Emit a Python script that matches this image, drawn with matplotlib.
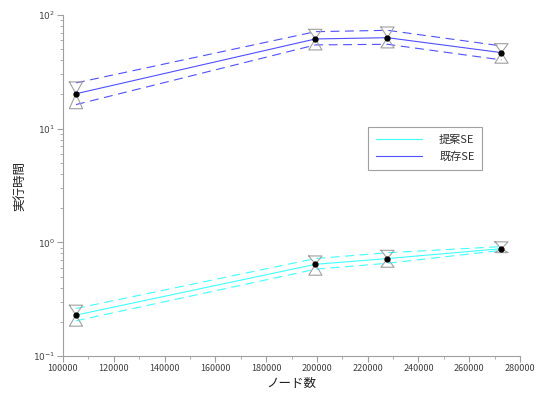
#!/usr/bin/env python3

import numpy as np
import matplotlib
matplotlib.use('Agg')
import matplotlib.pyplot as plt
from matplotlib.ticker import MultipleLocator, LogLocator, NullFormatter, FixedLocator, FixedFormatter

plt.rcParams['font.family'] = ['Noto Sans CJK JP', 'DejaVu Sans']

# node counts
nodes = [105100, 199400, 227800, 272700]

# proposed SE (cyan)
prop_mean = [0.229, 0.641, 0.72, 0.88]
prop_band_hi = [0.262, 0.72, 0.81, 0.917]
prop_band_lo = [0.204, 0.58, 0.655, 0.85]
prop_bar_hi = [0.280, 0.759, 0.851, 1.01]
prop_bar_lo = [0.183, 0.514, 0.604, 0.812]

# existing SE (blue)
exist_mean = [20.3, 61.6, 63.2, 46.7]
exist_band_hi = [25.3, 71.4, 73.4, 53.5]
exist_band_lo = [16.3, 54.6, 55.3, 40.3]
exist_bar_hi = [25.8, 74.9, 78.5, 56.0]
exist_bar_lo = [15.0, 49.3, 51.4, 37.7]

series = [
    ('提案SE', '#40ffff', prop_mean, prop_band_hi, prop_band_lo, prop_bar_hi, prop_bar_lo),
    ('既存SE', '#5050ff', exist_mean, exist_band_hi, exist_band_lo, exist_bar_hi, exist_bar_lo),
]

fig = plt.figure(figsize=(5.4, 3.96), dpi=100)
ax = fig.add_axes([0.1167, 0.101, 0.8463, 0.861])
ax.set_yscale('log')

half_w = 2600  # half width of the hourglass error marks (x units)

for label, color, mean, bhi, blo, hi, lo in series:
    ax.plot(nodes, mean, color=color, lw=0.8, label=label)
    ax.plot(nodes, bhi, color=color, lw=0.8, dashes=(8, 5))
    ax.plot(nodes, blo, color=color, lw=0.8, dashes=(8, 5))
    for x, m, h, l in zip(nodes, mean, hi, lo):
        xs = [x - half_w, x + half_w, x, x + half_w, x - half_w, x, x - half_w]
        ys = [h, h, m, l, l, m, h]
        ax.plot(xs, ys, color='#a0a0a0', lw=0.8, zorder=4)
    ax.plot(nodes, mean, 'o', color='black', ms=3.5, zorder=5)

ax.set_xlim(100000, 280000)
ax.set_ylim(0.1, 100)

for s in ['top', 'right']:
    ax.spines[s].set_visible(False)
for s in ['left', 'bottom']:
    ax.spines[s].set_color('#a0a0a0')
    ax.spines[s].set_linewidth(0.8)

ax.xaxis.set_major_locator(MultipleLocator(20000))
ax.xaxis.set_minor_locator(MultipleLocator(10000))
ax.xaxis.set_major_formatter(plt.FuncFormatter(lambda v, p: '%d' % v))
ax.yaxis.set_major_locator(FixedLocator([0.1, 1, 10, 100]))
ax.yaxis.set_major_formatter(FixedFormatter([r'$10^{-1}$', r'$10^{0}$', r'$10^{1}$', r'$10^{2}$']))
ax.yaxis.set_minor_locator(LogLocator(base=10, subs=np.arange(2, 10)))
ax.yaxis.set_minor_formatter(NullFormatter())

ax.tick_params(which='major', direction='out', length=4, color='#a0a0a0', labelsize=6.5, labelcolor='#404040', pad=1.5)
ax.tick_params(which='minor', direction='out', length=2.5, color='#a0a0a0')

ax.set_xlabel('ノード数', fontsize=9, color='#202020', labelpad=3)
ax.set_ylabel('実行時間', fontsize=9, color='#202020', labelpad=5)

leg = ax.legend(loc='upper left', bbox_to_anchor=(368 / 540, 1 - 127 / 396), bbox_transform=fig.transFigure,
                fontsize=8, fancybox=False, edgecolor='#a0a0a0', framealpha=1, handlelength=4.2,
                borderpad=0.7, labelspacing=0.6, handletextpad=1.5, borderaxespad=0)
leg.get_frame().set_linewidth(0.8)
for t in leg.get_texts():
    t.set_color('#303030')

fig.savefig('out.png', dpi=100)
